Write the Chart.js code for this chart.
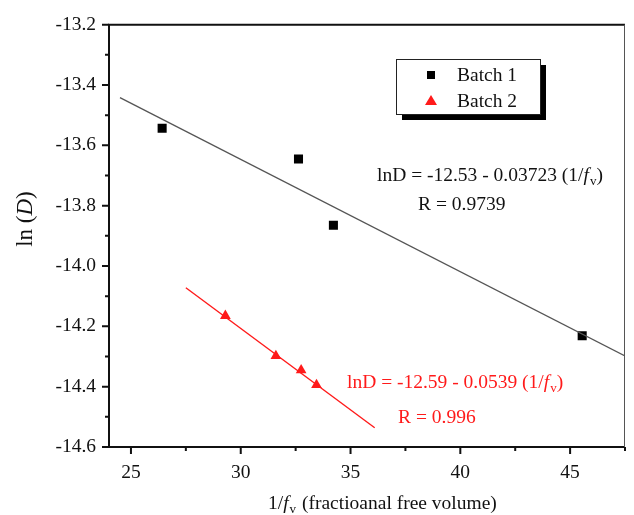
<!DOCTYPE html>
<html>
<head>
<meta charset="utf-8">
<script src="https://cdn.jsdelivr.net/npm/chart.js@4/dist/chart.umd.min.js"></script>
<style>
html,body{margin:0;padding:0;background:#fff;}
canvas{display:block;}
</style>
</head>
<body>
<canvas id="c" width="634" height="515"></canvas>
<script>
// ---- data ----
const batch1X = [26.42, 32.63, 34.22, 45.55];
const batch1Y = [-13.543, -13.645, -13.865, -14.231];
const batch2X = [29.3, 31.6, 32.75, 33.45];
const batch2Y = [-14.165, -14.298, -14.345, -14.394];
const fit1X = [24.5, 47.5];
const fit1Y = [-13.442, -14.298];
const fit2X = [27.5, 36.1];
const fit2Y = [-14.072, -14.536];
const xMajorTicks = [25, 30, 35, 40, 45];
const xMinorTicks = [27.5, 32.5, 37.5, 42.5, 47.5];
const yMajorTicks = [-13.2, -13.4, -13.6, -13.8, -14.0, -14.2, -14.4, -14.6];
const yMinorTicks = [-13.3, -13.5, -13.7, -13.9, -14.1, -14.3, -14.5];
const seriesNames = ['Batch 1', 'Batch 2'];
const eq1 = ['lnD = -12.53 - 0.03723 (1/', ')', 'R = 0.9739'];
const eq2 = ['lnD = -12.59 - 0.0539 (1/', ')', 'R = 0.996'];

const FONT = "'Liberation Serif', 'Times New Roman', serif";
const FS = 19.5;
const RED = '#ff1a1a';

const pts = (xs, ys) => xs.map((x, i) => ({x: x, y: ys[i]}));
const isIn = (arr, v) => arr.some(a => Math.abs(a - v) < 1e-6);

function drawEq(ctx, parts, x, y, color) {
  ctx.save();
  ctx.fillStyle = color;
  ctx.textBaseline = 'alphabetic';
  ctx.textAlign = 'left';
  ctx.font = FS + 'px ' + FONT;
  ctx.fillText(parts[0], x, y);
  let cx = x + ctx.measureText(parts[0]).width;
  ctx.font = 'italic ' + FS + 'px ' + FONT;
  ctx.fillText('f', cx, y);
  cx += ctx.measureText('f').width + 1;
  ctx.font = '13px ' + FONT;
  ctx.fillText('v', cx, y + 4);
  cx += ctx.measureText('v').width;
  ctx.font = FS + 'px ' + FONT;
  ctx.fillText(parts[1], cx, y);
  ctx.restore();
}

const decor = {
  id: 'decor',
  afterDraw(chart) {
    const ctx = chart.ctx;
    const xs = chart.scales.x, ys = chart.scales.y;
    const a = chart.chartArea;
    ctx.save();
    // frame
    ctx.strokeStyle = '#111';
    ctx.lineWidth = 2;
    ctx.beginPath();
    ctx.moveTo(a.right, a.top); ctx.lineTo(a.left, a.top);
    ctx.lineTo(a.left, a.bottom); ctx.lineTo(a.right, a.bottom);
    ctx.stroke();
    ctx.strokeStyle = '#555';
    ctx.lineWidth = 1;
    ctx.beginPath();
    ctx.moveTo(a.right - 0.5, a.top); ctx.lineTo(a.right - 0.5, a.bottom);
    ctx.stroke();
    // ticks
    ctx.strokeStyle = '#111';
    ctx.lineWidth = 2;
    ctx.beginPath();
    xMajorTicks.forEach(v => { const px = xs.getPixelForValue(v); ctx.moveTo(px, a.bottom); ctx.lineTo(px, a.bottom + 7); });
    xMinorTicks.forEach(v => { const px = xs.getPixelForValue(v); ctx.moveTo(px, a.bottom); ctx.lineTo(px, a.bottom + 4); });
    yMajorTicks.forEach(v => { const py = ys.getPixelForValue(v); ctx.moveTo(a.left, py); ctx.lineTo(a.left - 7, py); });
    yMinorTicks.forEach(v => { const py = ys.getPixelForValue(v); ctx.moveTo(a.left, py); ctx.lineTo(a.left - 4, py); });
    ctx.stroke();

    // axis titles
    ctx.fillStyle = '#111';
    ctx.textBaseline = 'alphabetic';
    // y title
    ctx.save();
    ctx.translate(32, 219);
    ctx.rotate(-Math.PI / 2);
    const YF = 23;
    const t1 = 'ln (', t3 = ')';
    ctx.font = 'italic ' + YF + 'px ' + FONT;
    const wD = ctx.measureText('D').width;
    ctx.font = YF + 'px ' + FONT;
    const w1 = ctx.measureText(t1).width, w3 = ctx.measureText(t3).width;
    let sx = -(w1 + wD + w3) / 2;
    ctx.textAlign = 'left';
    ctx.fillText(t1, sx, 0); sx += w1;
    ctx.font = 'italic ' + YF + 'px ' + FONT;
    ctx.fillText('D', sx, 0); sx += wD;
    ctx.font = YF + 'px ' + FONT;
    ctx.fillText(t3, sx, 0);
    ctx.restore();
    // x title
    ctx.textAlign = 'left';
    let xx = 268, yy = 509;
    ctx.font = FS + 'px ' + FONT;
    ctx.fillText('1/', xx, yy); xx += ctx.measureText('1/').width;
    ctx.font = 'italic ' + FS + 'px ' + FONT;
    ctx.fillText('f', xx, yy); xx += ctx.measureText('f').width + 1;
    ctx.font = '13px ' + FONT;
    ctx.fillText('v', xx, yy + 4); xx += ctx.measureText('v').width + 1;
    ctx.font = FS + 'px ' + FONT;
    ctx.fillText(' (fractioanal free volume)', xx, yy);

    // legend
    const lx = 396, ly = 59, lw = 144, lh = 55;
    ctx.fillStyle = '#000';
    ctx.fillRect(lx + 6, ly + 6, lw, lh);
    ctx.fillStyle = '#fff';
    ctx.fillRect(lx, ly, lw, lh);
    ctx.strokeStyle = '#222';
    ctx.lineWidth = 1;
    ctx.strokeRect(lx + 0.5, ly + 0.5, lw, lh);
    ctx.fillStyle = '#000';
    ctx.fillRect(427, 71, 8, 8);
    ctx.fillStyle = RED;
    ctx.beginPath();
    ctx.moveTo(431, 95); ctx.lineTo(437, 105); ctx.lineTo(425, 105); ctx.closePath();
    ctx.fill();
    ctx.fillStyle = '#111';
    ctx.font = FS + 'px ' + FONT;
    ctx.fillText(seriesNames[0], 457, 81);
    ctx.fillText(seriesNames[1], 457, 107);

    // equations
    drawEq(ctx, eq1, 377, 181, '#111');
    ctx.font = FS + 'px ' + FONT;
    ctx.fillStyle = '#111';
    ctx.fillText(eq1[2], 418, 210);
    drawEq(ctx, eq2, 347, 388, RED);
    ctx.font = FS + 'px ' + FONT;
    ctx.fillStyle = RED;
    ctx.fillText(eq2[2], 398, 423);
    ctx.restore();
  }
};

new Chart(document.getElementById('c'), {
  type: 'scatter',
  data: {
    datasets: [
      {label: 'fit1', data: pts(fit1X, fit1Y), showLine: true, borderColor: '#555', borderWidth: 1.3, pointRadius: 0, fill: false},
      {label: 'fit2', data: pts(fit2X, fit2Y), showLine: true, borderColor: RED, borderWidth: 1.4, pointRadius: 0, fill: false},
      {label: seriesNames[0], data: pts(batch1X, batch1Y), pointStyle: 'rect', pointRadius: 6.4, backgroundColor: '#000', borderColor: '#000', borderWidth: 0},
      {label: seriesNames[1], data: pts(batch2X, batch2Y), pointStyle: 'triangle', pointRadius: 6.2, backgroundColor: RED, borderColor: RED, borderWidth: 0}
    ]
  },
  options: {
    responsive: false,
    animation: false,
    events: [],
    layout: {padding: {left: 0, top: 22, right: 9, bottom: 0}},
    plugins: {legend: {display: false}, tooltip: {enabled: false}},
    scales: {
      x: {
        type: 'linear', min: 24, max: 47.5,
        afterBuildTicks: s => { s.ticks = xMajorTicks.map(v => ({value: v})); },
        afterFit: s => { s.height = 68; },
        grid: {display: false, drawTicks: false, tickLength: 0},
        border: {display: false},
        ticks: {padding: 14, color: '#111', font: {family: FONT, size: FS}, maxRotation: 0,
          callback: v => isIn(xMajorTicks, v) ? String(v) : ''}
      },
      y: {
        type: 'linear', min: -14.6, max: -13.2,
        afterBuildTicks: s => { s.ticks = yMajorTicks.map(v => ({value: v})); },
        afterFit: s => { s.width = 109; },
        grid: {display: false, drawTicks: false, tickLength: 0},
        border: {display: false},
        ticks: {padding: 13, color: '#111', font: {family: FONT, size: FS},
          callback: v => isIn(yMajorTicks, v) ? v.toFixed(1) : ''}
      }
    }
  },
  plugins: [decor]
});
</script>
</body>
</html>
